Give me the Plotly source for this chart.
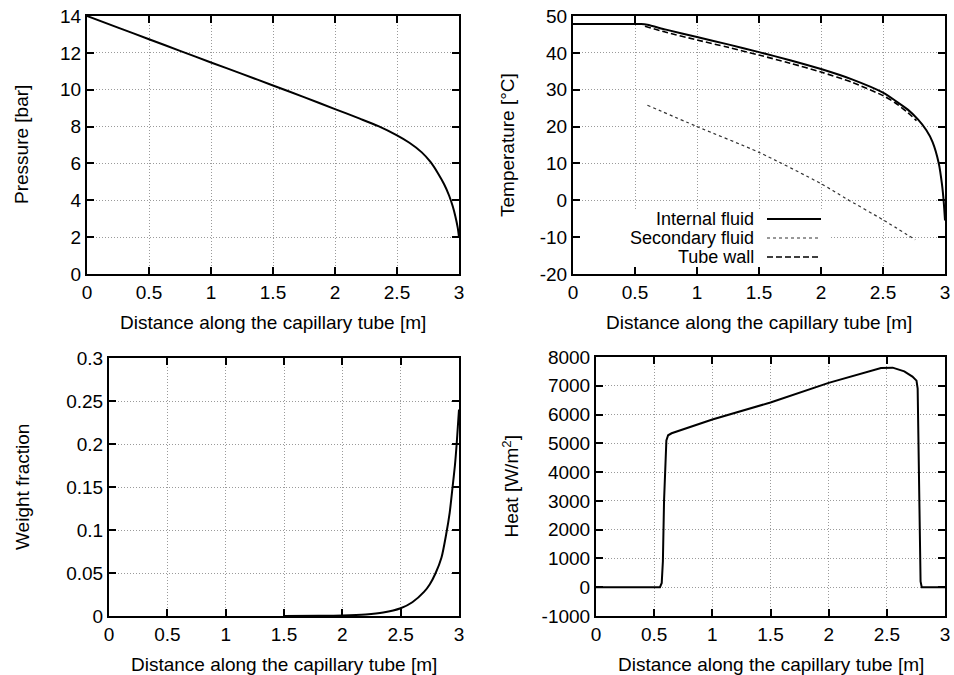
import plotly.graph_objects as go

# ---- data -------------------------------------------------------------
# Pressure along the capillary tube
dist_p = [0.0, 0.25, 0.5, 0.75, 1.0, 1.25, 1.5, 1.75, 2.0, 2.2, 2.35, 2.5,
          2.6, 2.7, 2.77, 2.83, 2.88, 2.92, 2.95, 2.97, 2.99, 3.0]
pressure = [14.0, 13.37, 12.74, 12.11, 11.48, 10.86, 10.23, 9.6, 8.95, 8.43,
            8.02, 7.52, 7.12, 6.6, 6.08, 5.47, 4.87, 4.26, 3.66, 3.15, 2.5, 2.0]

# Temperatures [degC]
dist_int = [0.0, 0.55, 0.6, 0.75, 1.0, 1.25, 1.5, 1.75, 2.0, 2.25, 2.5, 2.6,
            2.7, 2.78, 2.85, 2.9, 2.95, 2.975, 2.99, 3.0]
temp_internal = [47.8, 47.8, 47.6, 46.3, 44.3, 42.3, 40.2, 38.0, 35.6, 32.8,
                 29.2, 27.0, 24.6, 22.0, 19.0, 15.8, 10.0, 4.5, -0.5, -5.5]

dist_wall = [0.58, 0.75, 1.0, 1.25, 1.5, 1.75, 2.0, 2.25, 2.5, 2.6, 2.7, 2.77]
temp_wall = [47.2, 45.6, 43.5, 41.5, 39.4, 37.2, 34.8, 32.0, 28.4, 26.4, 23.8, 21.6]

dist_sec = [0.6, 1.0, 1.5, 2.0, 2.2, 2.5, 2.76]
temp_secondary = [25.8, 20.0, 13.0, 4.5, 0.5, -5.3, -10.7]

# Vapour weight fraction
dist_w = [1.5, 1.8, 2.0, 2.2, 2.35, 2.5, 2.6, 2.7, 2.75, 2.8, 2.85, 2.89,
          2.92, 2.945, 2.965, 2.98, 2.99, 3.0]
weight_fraction = [0.0, 0.0002, 0.0006, 0.0018, 0.004, 0.009, 0.016, 0.028,
                   0.037, 0.05, 0.068, 0.095, 0.12, 0.15, 0.175, 0.2, 0.22, 0.24]

# Heat flux [W/m2]
dist_h = [0.0, 0.55, 0.565, 0.575, 0.585, 0.595, 0.605, 0.62, 0.65, 1.0, 1.5,
          2.0, 2.25, 2.45, 2.55, 2.65, 2.72, 2.755, 2.765, 2.772, 2.78, 2.79,
          2.8, 3.0]
heat = [0, 0, 150, 900, 3000, 4500, 5100, 5280, 5350, 5830, 6420, 7100, 7400,
        7620, 7630, 7500, 7320, 7180, 6900, 5000, 2000, 200, 0, 0]

# Tick labels
x_ticks = [0, 0.5, 1, 1.5, 2, 2.5, 3]
x_ticktext = ["0", "0.5", "1", "1.5", "2", "2.5", "3"]
p_ticks = [0, 2, 4, 6, 8, 10, 12, 14]
t_ticks = [-20, -10, 0, 10, 20, 30, 40, 50]
w_ticks = [0, 0.05, 0.1, 0.15, 0.2, 0.25, 0.3]
w_ticktext = ["0", "0.05", "0.1", "0.15", "0.2", "0.25", "0.3"]
h_ticks = [-1000, 0, 1000, 2000, 3000, 4000, 5000, 6000, 7000, 8000]

series_names = ["Internal fluid", "Secondary fluid", "Tube wall"]

# ---- styling ------------------------------------------------------------
FONT = "Liberation Sans"
W, H = 954, 675


def axis(domain, ticks, text, rng, anchor):
    return dict(
        domain=domain, range=rng, anchor=anchor, automargin=False,
        tickmode="array", tickvals=ticks, ticktext=text,
        showline=True, linewidth=2, linecolor="black", mirror="allticks",
        ticks="inside", ticklen=7, tickwidth=1.5, tickcolor="black",
        showgrid=True, gridcolor="#9a9a9a", griddash="1px,2px", gridwidth=1,
        zeroline=False, tickfont=dict(family=FONT, size=19, color="black"),
        fixedrange=True,
    )


def px_x(v):
    return v / W


def px_y(v):
    return 1 - v / H


# plot-area boxes in pixels (left, right, top, bottom)
boxes = {
    1: (87, 459, 16, 274),
    2: (573, 945, 16, 274),
    3: (109, 459, 358, 616),
    4: (596, 945, 357, 616),
}


def dom(i):
    l, r, t, b = boxes[i]
    return [px_x(l), px_x(r)], [px_y(b), px_y(t)]


line_main = dict(color="black", width=2)
smooth = dict(shape="spline", smoothing=0.7)

fig = go.Figure()

fig.add_trace(go.Scatter(x=dist_p, y=pressure, mode="lines",
                         line=dict(line_main, **smooth),
                         xaxis="x", yaxis="y", showlegend=False))

fig.add_trace(go.Scatter(x=dist_int, y=temp_internal, mode="lines",
                         line=dict(line_main, **smooth),
                         xaxis="x2", yaxis="y2", name=series_names[0], showlegend=False))
fig.add_trace(go.Scatter(x=dist_sec, y=temp_secondary, mode="lines",
                         line=dict(color="#333333", width=1.2, dash="3px,3px", **smooth),
                         xaxis="x2", yaxis="y2", name=series_names[1], showlegend=False))
fig.add_trace(go.Scatter(x=dist_wall, y=temp_wall, mode="lines",
                         line=dict(color="black", width=1.6, dash="6px,3px", **smooth),
                         xaxis="x2", yaxis="y2", name=series_names[2], showlegend=False))

fig.add_trace(go.Scatter(x=dist_w, y=weight_fraction, mode="lines",
                         line=dict(line_main, **smooth),
                         xaxis="x3", yaxis="y3", showlegend=False))

fig.add_trace(go.Scatter(x=dist_h, y=heat, mode="lines", line=line_main,
                         xaxis="x4", yaxis="y4", showlegend=False))

layout = dict(
    width=W, height=H, margin=dict(l=0, r=0, t=0, b=0, autoexpand=False),
    paper_bgcolor="white", plot_bgcolor="white", showlegend=False,
    font=dict(family=FONT, size=19, color="black"),
)

specs = {
    1: (p_ticks, [str(v) for v in p_ticks], [0, 14]),
    2: (t_ticks, [str(v) for v in t_ticks], [-20, 50]),
    3: (w_ticks, w_ticktext, [0, 0.3]),
    4: (h_ticks, [str(v) for v in h_ticks], [-1000, 8000]),
}
for i in range(1, 5):
    xd, yd = dom(i)
    sfx = "" if i == 1 else str(i)
    layout["xaxis" + sfx] = axis(xd, x_ticks, x_ticktext, [0, 3], "y" + sfx)
    yt, ytt, yr = specs[i]
    layout["yaxis" + sfx] = axis(yd, yt, ytt, yr, "x" + sfx)

fig.update_layout(**layout)

# axis titles
ytitles = {1: ("Pressure [bar]", 22), 2: ("Temperature [°C]", 508),
           3: ("Weight fraction", 22), 4: ("Heat [W/m<sup>2</sup>]", 510)}
annotations = []
for i in range(1, 5):
    l, r, t, b = boxes[i]
    annotations.append(dict(
        text="Distance along the capillary tube [m]", xref="paper", yref="paper",
        x=px_x((l + r) / 2), y=px_y(b + 48), xanchor="center", yanchor="middle",
        showarrow=False, font=dict(family=FONT, size=19, color="black")))
    txt, cx = ytitles[i]
    annotations.append(dict(
        text=txt, xref="paper", yref="paper", textangle=-90,
        x=px_x(cx), y=px_y((t + b) / 2), xanchor="center", yanchor="middle",
        showarrow=False, font=dict(family=FONT, size=19, color="black")))

# key for the temperature panel
key_rows = [219, 238, 257]
key_styles = [dict(color="black", width=2),
              dict(color="#333333", width=1.2, dash="3px,3px"),
              dict(color="black", width=1.6, dash="6px,3px")]
shapes = [dict(type="rect", xref="x2", yref="y2", x0=0, x1=2.07, y0=-20, y1=-2.4,
               fillcolor="white", line=dict(width=0), layer="between")]
for name, row, st in zip(series_names, key_rows, key_styles):
    annotations.append(dict(
        text=name, xref="paper", yref="paper", x=px_x(756), y=px_y(row),
        xanchor="right", yanchor="middle", showarrow=False,
        font=dict(family=FONT, size=18, color="black")))
    shapes.append(dict(type="line", xref="paper", yref="paper",
                       x0=px_x(767), x1=px_x(821), y0=px_y(row), y1=px_y(row),
                       line=st))

fig.update_layout(annotations=annotations, shapes=shapes)

fig.write_html("out.html")
